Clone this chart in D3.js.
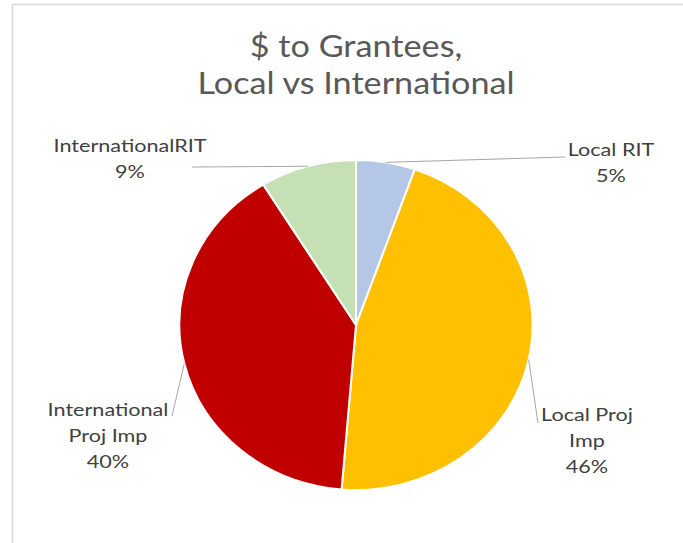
<!DOCTYPE html>
<html>
<head>
<meta charset="utf-8">
<script src="https://cdn.jsdelivr.net/npm/d3@7"></script>
<style>
  body { margin: 0; background: #fff; }
  svg { display: block; }
</style>
</head>
<body>
<svg></svg>
<script>
const width = 683;
const height = 543;
const svg = d3.select("svg").attr("width", width).attr("height", height);

// data
const categories = ["Local RIT", "Local Proj Imp", "International Proj Imp", "International RIT"];
const values = [5.4, 45.9, 39.9, 8.8];
const pctLabels = ["5%", "46%", "40%", "9%"];
const colors = ["#B4C7E7", "#FFC000", "#C00000", "#C5E0B4"];

// label layout (lines of text, anchor, leader end)
const labelLines = [["Local RIT", pctLabels[0]], ["Local Proj", "Imp", pctLabels[1]], ["International", "Proj Imp", pctLabels[2]], ["InternationalRIT", pctLabels[3]]];
const labelPos = [[611, 156], [587, 421], [108, 416], [130, 152]];
const leaderEnd = [[565, 157], [538, 423], [172, 416], [192, 167]];

const centerX = 356;
const centerY = 325;
const radius = 165;
const stretchX = 1.07;

// chart frame
svg.append("rect")
  .attr("x", 12.5)
  .attr("y", 4.5)
  .attr("width", 720)
  .attr("height", 600)
  .attr("fill", "none")
  .attr("stroke", "#d9d9d9")
  .attr("stroke-width", 1.5);

// title
const titleLines = ["$ to Grantees,", "Local vs International"];
titleLines.forEach((s, i) => {
  svg.append("text")
    .attr("transform", `translate(356, ${57 + i * 37}) scale(1.14, 1)`)
    .attr("text-anchor", "middle")
    .attr("font-family", "Lato, sans-serif")
    .attr("font-size", 30)
    .attr("fill", "#595959")
    .text(s);
});

const pie = d3.pie().sort(null).value(d => d);
const arcs = pie(values);

const arc = d3.arc().innerRadius(0).outerRadius(radius);

const group = svg.append("g")
  .attr("transform", `translate(${centerX}, ${centerY}) scale(${stretchX}, 1)`);

group.selectAll("path")
  .data(arcs)
  .join("path")
  .attr("d", arc)
  .attr("fill", (d, i) => colors[i])
  .attr("stroke", "#fff")
  .attr("stroke-width", 2)
  .attr("vector-effect", "non-scaling-stroke");

// leader lines from the middle of each slice edge
arcs.forEach((d, i) => {
  const mid = (d.startAngle + d.endAngle) / 2;
  const x = centerX + radius * stretchX * Math.sin(mid);
  const y = centerY - radius * Math.cos(mid);
  svg.append("line")
    .attr("x1", x)
    .attr("y1", y)
    .attr("x2", leaderEnd[i][0])
    .attr("y2", leaderEnd[i][1])
    .attr("stroke", "#a6a6a6")
    .attr("stroke-width", 1);
});

// data labels
categories.forEach((c, i) => {
  labelLines[i].forEach((s, j) => {
    svg.append("text")
      .attr("transform", `translate(${labelPos[i][0]}, ${labelPos[i][1] + j * 26}) scale(1.2, 1)`)
      .attr("text-anchor", "middle")
      .attr("font-family", "Lato, sans-serif")
      .attr("font-size", 18)
      .attr("fill", "#404040")
      .text(s);
  });
});
</script>
</body>
</html>
